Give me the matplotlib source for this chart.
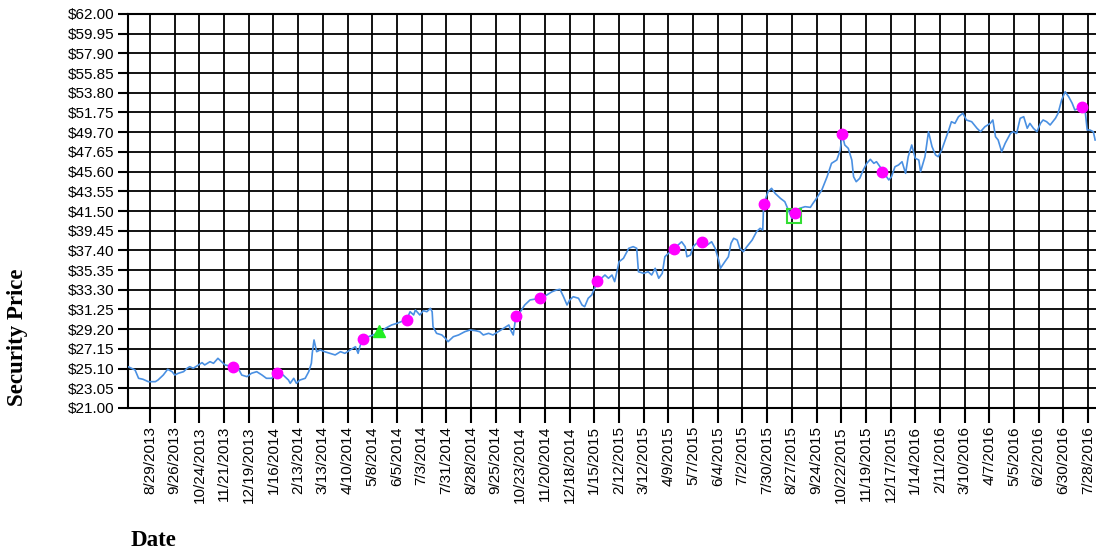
import matplotlib
matplotlib.use("Agg")
import matplotlib.pyplot as plt
import numpy as np
import pandas as pd

# closing prices
price_dates = [
    "2013-08-04", "2013-08-12", "2013-08-16", "2013-08-21", "2013-08-27", "2013-09-04",
    "2013-09-07", "2013-09-13", "2013-09-18", "2013-09-23", "2013-09-26", "2013-09-30",
    "2013-10-06", "2013-10-10", "2013-10-13", "2013-10-17", "2013-10-21", "2013-10-27",
    "2013-10-30", "2013-11-05", "2013-11-09", "2013-11-14", "2013-11-18", "2013-11-22",
    "2013-12-01", "2013-12-07", "2013-12-11", "2013-12-17", "2013-12-22", "2013-12-28",
    "2014-01-03", "2014-01-08", "2014-01-14", "2014-01-20", "2014-01-27", "2014-02-02",
    "2014-02-04", "2014-02-08", "2014-02-11", "2014-02-15", "2014-02-21", "2014-02-25",
    "2014-02-28", "2014-03-01", "2014-03-03", "2014-03-06", "2014-03-10", "2014-03-15",
    "2014-03-21", "2014-03-27", "2014-04-02", "2014-04-07", "2014-04-13", "2014-04-19",
    "2014-04-22", "2014-04-24", "2014-04-27", "2014-05-04", "2014-05-09", "2014-05-16",
    "2014-05-23", "2014-05-30", "2014-06-05", "2014-06-16", "2014-06-20", "2014-06-24",
    "2014-06-26", "2014-07-01", "2014-07-05", "2014-07-09", "2014-07-13", "2014-07-15",
    "2014-07-16", "2014-07-20", "2014-07-26", "2014-07-30", "2014-08-02", "2014-08-08",
    "2014-08-14", "2014-08-21", "2014-08-27", "2014-09-02", "2014-09-07", "2014-09-11",
    "2014-09-17", "2014-09-22", "2014-09-28", "2014-10-04", "2014-10-10", "2014-10-12",
    "2014-10-15", "2014-10-18", "2014-10-23", "2014-10-28", "2014-11-03", "2014-11-14",
    "2014-11-22", "2014-11-28", "2014-12-03", "2014-12-07", "2014-12-11", "2014-12-15",
    "2014-12-18", "2014-12-22", "2014-12-28", "2015-01-01", "2015-01-04", "2015-01-08",
    "2015-01-12", "2015-01-16", "2015-01-18", "2015-01-23", "2015-01-27", "2015-01-31",
    "2015-02-04", "2015-02-07", "2015-02-10", "2015-02-12", "2015-02-17", "2015-02-23",
    "2015-02-28", "2015-03-04", "2015-03-06", "2015-03-12", "2015-03-17", "2015-03-21",
    "2015-03-25", "2015-03-29", "2015-04-02", "2015-04-05", "2015-04-09", "2015-04-15",
    "2015-04-20", "2015-04-24", "2015-04-28", "2015-04-30", "2015-05-04", "2015-05-07",
    "2015-05-11", "2015-05-17", "2015-05-23", "2015-05-28", "2015-06-01", "2015-06-05",
    "2015-06-07", "2015-06-12", "2015-06-16", "2015-06-19", "2015-06-22", "2015-06-26",
    "2015-06-29", "2015-07-03", "2015-07-07", "2015-07-13", "2015-07-18", "2015-07-22",
    "2015-07-25", "2015-07-26", "2015-07-31", "2015-08-04", "2015-08-08", "2015-08-14",
    "2015-08-19", "2015-08-23", "2015-08-27", "2015-08-31", "2015-09-05", "2015-09-11",
    "2015-09-17", "2015-09-20", "2015-09-24", "2015-09-30", "2015-10-06", "2015-10-11",
    "2015-10-17", "2015-10-21", "2015-10-23", "2015-10-26", "2015-10-30", "2015-11-03",
    "2015-11-05", "2015-11-08", "2015-11-12", "2015-11-16", "2015-11-20", "2015-11-24",
    "2015-11-28", "2015-12-01", "2015-12-05", "2015-12-07", "2015-12-11", "2015-12-15",
    "2015-12-18", "2015-12-22", "2015-12-26", "2015-12-30", "2016-01-03", "2016-01-06",
    "2016-01-10", "2016-01-14", "2016-01-18", "2016-01-20", "2016-01-25", "2016-01-29",
    "2016-02-02", "2016-02-06", "2016-02-09", "2016-02-13", "2016-02-17", "2016-02-21",
    "2016-02-24", "2016-02-28", "2016-03-03", "2016-03-08", "2016-03-12", "2016-03-18",
    "2016-03-24", "2016-03-28", "2016-04-02", "2016-04-08", "2016-04-11", "2016-04-14",
    "2016-04-17", "2016-04-21", "2016-04-25", "2016-05-01", "2016-05-04", "2016-05-08",
    "2016-05-12", "2016-05-16", "2016-05-20", "2016-05-23", "2016-05-27", "2016-05-31",
    "2016-06-04", "2016-06-07", "2016-06-11", "2016-06-15", "2016-06-21", "2016-06-24",
    "2016-06-28", "2016-07-02", "2016-07-06", "2016-07-10", "2016-07-13", "2016-07-21",
    "2016-07-25", "2016-07-27", "2016-07-30", "2016-08-03", "2016-08-05",
]
prices = [
    25.30, 24.96, 24.09, 23.99, 23.74, 23.74,
    23.91, 24.43, 25.03, 24.78, 24.43, 24.61,
    24.78, 25.13, 25.30, 25.13, 25.37, 25.72,
    25.48, 25.82, 25.65, 26.17, 25.82, 25.48,
    25.30, 25.13, 24.43, 24.26, 24.61, 24.78,
    24.43, 24.09, 24.09, 24.67, 24.43, 23.91,
    23.57, 24.09, 23.57, 23.91, 24.09, 24.78,
    25.65, 26.69, 28.08, 26.86, 27.04, 26.86,
    26.69, 26.52, 26.86, 26.69, 27.04, 27.38,
    26.69, 27.38, 28.18, 28.42, 28.60, 28.84,
    29.29, 29.64, 29.81, 30.20, 31.02, 30.68,
    31.20, 30.68, 31.13, 31.02, 31.37, 31.02,
    29.46, 28.77, 28.60, 28.25, 27.90, 28.42,
    28.60, 28.94, 29.12, 29.05, 28.94, 28.60,
    28.77, 28.60, 28.94, 29.29, 29.64, 29.12,
    28.60, 30.58, 31.02, 31.72, 32.24, 32.42,
    32.76, 33.10, 33.28, 33.35, 32.58, 31.72,
    32.24, 32.58, 32.42, 31.72, 31.54, 32.42,
    32.76, 33.62, 34.25, 34.50, 34.84, 34.50,
    34.84, 34.15, 35.36, 36.22, 36.58, 37.62,
    37.79, 37.62, 35.18, 35.01, 35.18, 34.84,
    35.54, 34.50, 35.01, 36.74, 37.10, 37.51,
    37.96, 38.30, 37.79, 36.74, 36.92, 37.79,
    38.14, 38.24, 37.96, 38.30, 37.62, 36.40,
    35.54, 36.22, 36.74, 38.14, 38.66, 38.48,
    37.62, 37.27, 37.79, 38.48, 39.35, 39.70,
    39.52, 42.20, 43.51, 43.86, 43.34, 42.82,
    42.47, 41.60, 40.74, 41.26, 41.78, 41.95,
    41.88, 42.30, 42.82, 43.69, 45.07, 46.46,
    46.81, 47.85, 49.51, 48.37, 48.02, 46.81,
    45.07, 44.55, 44.90, 45.77, 46.46, 46.88,
    46.46, 46.63, 46.11, 45.59, 45.25, 44.73,
    45.07, 46.11, 46.29, 46.63, 45.42, 47.15,
    48.37, 46.98, 46.81, 45.59, 47.15, 49.75,
    48.20, 47.33, 47.15, 47.85, 48.89, 49.93,
    50.79, 50.62, 51.31, 51.67, 50.97, 50.79,
    50.11, 49.75, 50.27, 50.62, 50.97, 49.23,
    48.89, 47.67, 48.55, 49.58, 49.75, 49.58,
    51.15, 51.31, 50.11, 50.62, 50.11, 49.75,
    50.62, 50.97, 50.79, 50.45, 51.15, 51.67,
    53.05, 53.91, 53.39, 52.71, 52.01, 52.35,
    51.67, 49.93, 49.93, 49.75, 48.89,
]

# signal markers
pink_dates = ["2013-12-01", "2014-01-20", "2014-04-27", "2014-06-16", "2014-10-18",
              "2014-11-14", "2015-01-18", "2015-04-15", "2015-05-17", "2015-07-26",
              "2015-08-31", "2015-10-23", "2015-12-07", "2016-07-21"]
pink_prices = [25.30, 24.67, 28.18, 30.20, 30.58, 32.42, 34.25, 37.51, 38.24, 42.20,
               41.26, 49.51, 45.59, 52.35]
triangle_dates = ["2014-05-16"]
triangle_prices = [29.00]
square_dates = ["2015-08-30"]
square_prices = [41.00]

y_ticks = [21.00 + 2.05 * k for k in range(21)]

fig = plt.figure(figsize=(10.96, 5.5), dpi=100)
ax = fig.add_axes([128 / 1096, 1 - 408 / 550, 1 - 128 / 1096, (408 - 14) / 550])

ax.plot(pd.to_datetime(price_dates), prices, color="#4a90e2", lw=1.2, zorder=3)
ax.plot(pd.to_datetime(square_dates), square_prices, ls="none", marker="s", ms=10,
        mfc="none", mec="#33dd33", mew=1.5, zorder=4)
ax.plot(pd.to_datetime(triangle_dates), triangle_prices, ls="none", marker="^", ms=9,
        color="#22ee22", zorder=5)
ax.plot(pd.to_datetime(pink_dates), pink_prices, ls="none", marker="o", ms=7.5,
        color="#ff00ff", zorder=5)

ax.set_xlim(pd.Timestamp("2013-08-04"), pd.Timestamp("2016-08-06"))
ax.set_ylim(21, 62)

x_ticks = pd.date_range("2013-08-29", "2016-07-28", freq="28D")
ax.set_xticks(x_ticks)
ax.set_xticklabels([f"{d.month}/{d.day}/{d.year}" for d in x_ticks], rotation=90,
                   fontsize=11, family="Liberation Sans")
ax.set_yticks(y_ticks)
ax.set_yticklabels([f"${v:.2f}" for v in y_ticks], fontsize=11, family="Liberation Sans")

ax.tick_params(axis="x", length=11, width=1.5, pad=2)
ax.tick_params(axis="y", length=7, width=1.5, pad=3)
ax.grid(True, color="black", lw=1.3)

for side in ["left", "bottom", "top"]:
    ax.spines[side].set_linewidth(1.5)
ax.spines["right"].set_visible(False)

fig.text(18 / 1096, 1 - 337 / 550, "Security Price", rotation=90, ha="center", va="center",
         fontsize=16.5, fontweight="bold", family="Liberation Serif")
fig.text(131 / 1096, 1 - 540 / 550, "Date", ha="left", va="center",
         fontsize=16.5, fontweight="bold", family="Liberation Serif")

fig.savefig("out.png", dpi=100)
